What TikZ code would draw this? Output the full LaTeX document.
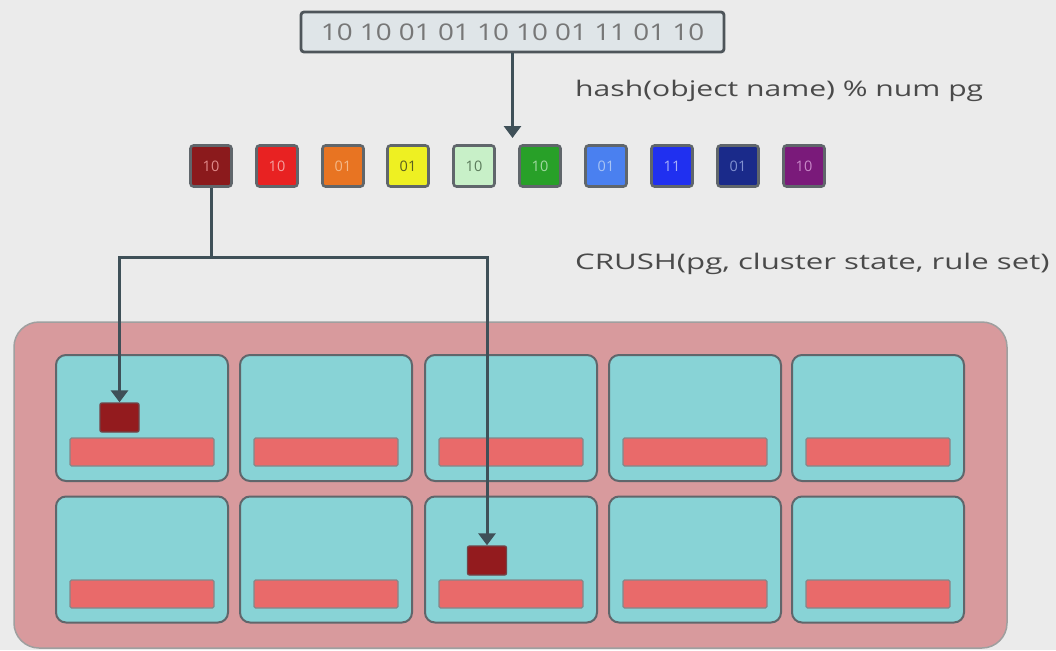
\documentclass[tikz,border=0pt]{standalone}
\usepackage{fontspec}
\setmainfont{Open Sans}
\newfontfamily\hashfont[FakeStretch=1.40]{Open Sans}
\newfontfamily\crushfont[FakeStretch=1.45]{Open Sans}
\newfontfamily\bitfont[FakeStretch=1.21]{Open Sans}
\usetikzlibrary{arrows.meta}
\definecolor{bg}{HTML}{EBEBEB}
\definecolor{ink}{HTML}{4A4A4A}
\definecolor{edge}{HTML}{4E555A}
\definecolor{bitfill}{HTML}{DFE5E8}
\definecolor{contfill}{HTML}{D89A9D}
\definecolor{cellfill}{HTML}{88D3D6}
\definecolor{barfill}{HTML}{E96A6A}
\definecolor{objfill}{HTML}{931B1E}
\definecolor{connc}{HTML}{3F5058}
\definecolor{cA}{HTML}{8B1A1C}\definecolor{tA}{HTML}{E08A8A}
\definecolor{cB}{HTML}{E82222}\definecolor{tB}{HTML}{F4A0A0}
\definecolor{cC}{HTML}{E87422}\definecolor{tC}{HTML}{F4B888}
\definecolor{cD}{HTML}{EEF022}\definecolor{tD}{HTML}{5A6020}
\definecolor{cE}{HTML}{C8F0C8}\definecolor{tE}{HTML}{5A7A5A}
\definecolor{cF}{HTML}{28A028}\definecolor{tF}{HTML}{A0D8A0}
\definecolor{cG}{HTML}{4A80F0}\definecolor{tG}{HTML}{A8C4F4}
\definecolor{cH}{HTML}{2030F0}\definecolor{tH}{HTML}{A8B0F8}
\definecolor{cI}{HTML}{1A2A8A}\definecolor{tI}{HTML}{8090D0}
\definecolor{cJ}{HTML}{7A1A7A}\definecolor{tJ}{HTML}{C888C8}
\tikzset{
  bitbox/.style={draw=edge, line width=2.8pt, fill=bitfill, rounded corners=3pt,
    minimum width=423pt, minimum height=40pt, inner sep=0pt, text=ink!75,
    font=\bitfont\fontsize{23}{26}\selectfont},
  pgsq/.style={draw=edge!90, line width=2.6pt, rounded corners=3pt,
    minimum width=41pt, minimum height=41pt, inner sep=0pt,
    font=\fontsize{14.5}{16}\selectfont},
  container/.style={draw=gray!75, line width=1.5pt, fill=contfill, rounded corners=25pt},
  cellbox/.style={draw=edge!90, line width=2pt, fill=cellfill, rounded corners=10pt,
    minimum width=172pt, minimum height=126pt, inner sep=0pt},
  barbox/.style={draw=edge!70, line width=1.2pt, fill=barfill, rounded corners=1.5pt,
    minimum width=144pt, minimum height=28pt, inner sep=0pt},
  objbox/.style={draw=edge!80!red, line width=1.4pt, fill=objfill, rounded corners=2pt,
    minimum width=39pt, minimum height=29pt, inner sep=0pt},
  conn/.style={draw=connc, line width=3pt},
  connarrow/.style={conn, -{Triangle[length=12pt,width=17pt]}},
  lbl/.style={anchor=base west, text=ink, inner sep=0pt}
}
\begin{document}
\begin{tikzpicture}[x=1pt,y=-1pt]
\fill[bg] (0,0) rectangle (1056,650);
\useasboundingbox (0,0) rectangle (1056,650);

% top bit string
\node[bitbox] (bits) at (512.5,32) {10 10 01 01 10 10 01 11 01 10};
\coordinate (hashend) at (512.5,138);
\draw[connarrow] (bits.south) -- (hashend);

% labels
\node[lbl, font=\hashfont\fontsize{21.5}{24}\selectfont] (hashlbl) at (575,96) {hash(object name) \% num pg};
\node[lbl, font=\crushfont\fontsize{21.5}{24}\selectfont] (crushlbl) at (575,269) {CRUSH(pg, cluster state, rule set)};

% placement group squares
\foreach \i/\x/\c/\t/\v in {1/211/cA/tA/10, 2/277/cB/tB/10, 3/343/cC/tC/01, 4/408/cD/tD/01,
  5/474/cE/tE/10, 6/540/cF/tF/10, 7/606/cG/tG/01, 8/672/cH/tH/11, 9/738/cI/tI/01, 10/804/cJ/tJ/10}
  \node[pgsq, fill=\c, text=\t] (p\i) at (\x,166) {\v};

% cluster container
\draw[container] (14,322) rectangle (1007,648);

% OSD cells
\foreach \col/\x in {1/56, 2/240, 3/425, 4/609, 5/792}{
  \node[cellbox] (ca\col) at (\x+86,418) {};
  \node[barbox] (ba\col) at (\x+86,452) {};
  \node[cellbox] (cb\col) at (\x+86,559.5) {};
  \node[barbox] (bb\col) at (\x+86,594) {};
}

% objects
\node[objbox] (o1) at (119.5,417.5) {};
\node[objbox] (o2) at (487,560.5) {};

% CRUSH connectors
\coordinate (j) at (211,257);
\draw[conn] (p1.south) -- (j);
\draw[connarrow] (j) -| (o1.north);
\draw[connarrow] (j) -| (o2.north);
\end{tikzpicture}
\end{document}
